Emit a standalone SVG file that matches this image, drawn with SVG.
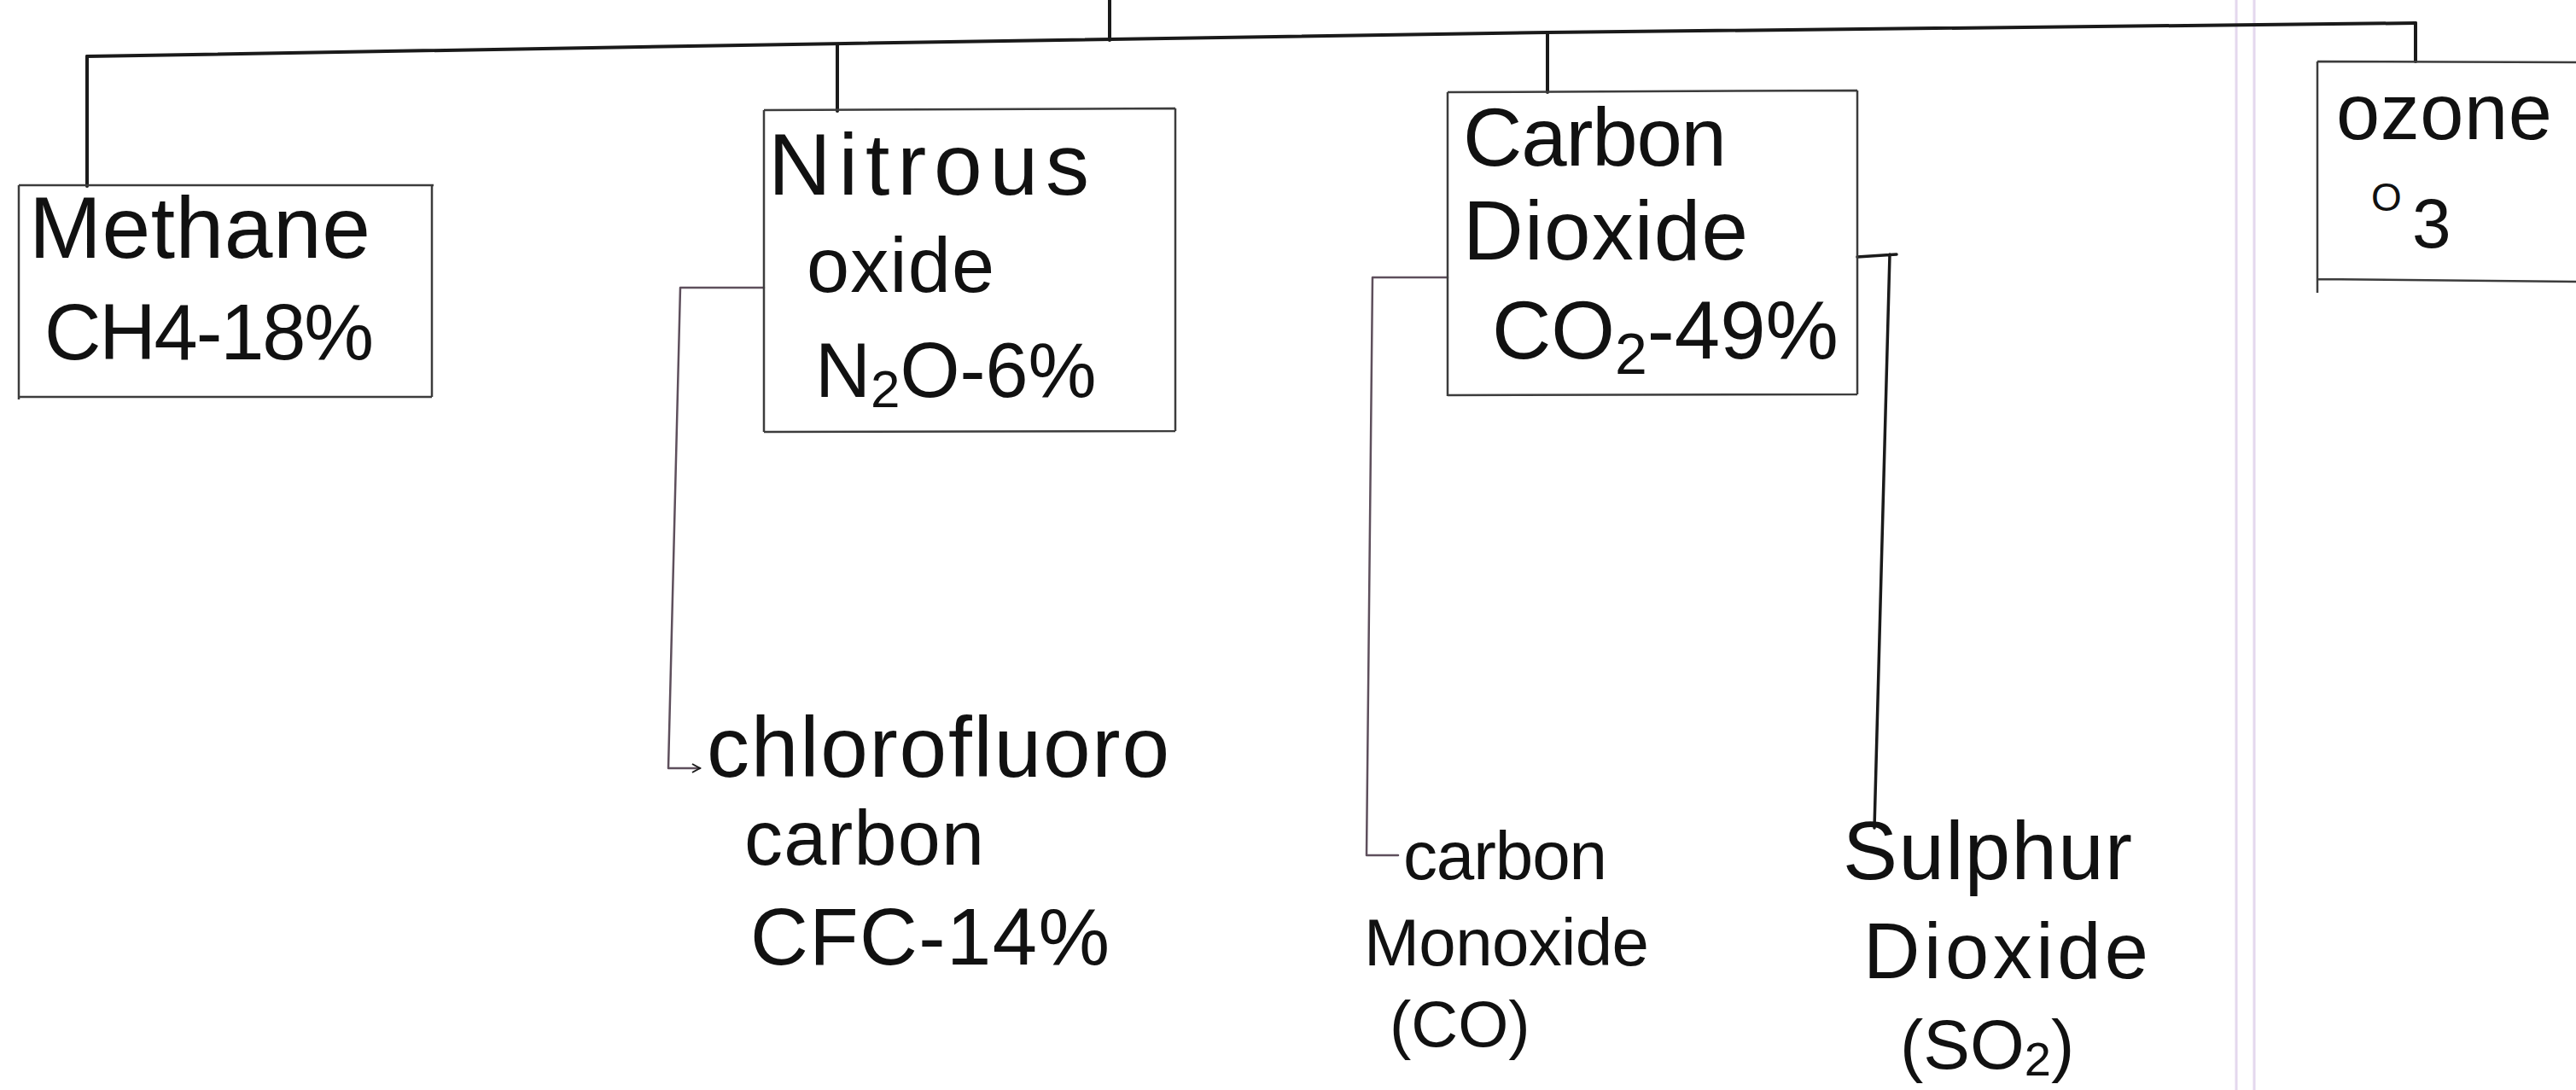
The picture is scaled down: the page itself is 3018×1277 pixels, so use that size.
<svg xmlns="http://www.w3.org/2000/svg" width="3018" height="1277" viewBox="0 0 3018 1277">
<defs>
<style>
.bg{fill:#ffffff}
.margin{stroke:#e4d8ee;stroke-width:3;fill:none}
.box{fill:none;stroke:#3c3c3c;stroke-width:2.5;stroke-linejoin:round}
.main{fill:none;stroke:#1a1a1a;stroke-width:4;stroke-linecap:round;stroke-linejoin:round}
.sub{fill:none;stroke:#5e4f5c;stroke-width:2.5;stroke-linecap:round;stroke-linejoin:round}
.dark{fill:none;stroke:#1a1a1a;stroke-width:3.5;stroke-linecap:round;stroke-linejoin:round}
.t{font-family:"Liberation Sans",Arial,sans-serif;fill:#111}
</style>
<marker id="arr" viewBox="0 0 12 12" refX="10" refY="6" markerWidth="12" markerHeight="12" markerUnits="userSpaceOnUse" orient="auto">
<path d="M1,1 L10,6 L1,11" fill="none" stroke="#1a1a1a" stroke-width="2"/>
</marker>
</defs>
<rect class="bg" x="0" y="0" width="3018" height="1277"/>
<g id="page-margin">
<line class="margin" x1="2620" y1="0" x2="2620" y2="1277"/>
<line class="margin" x1="2641" y1="0" x2="2641" y2="1277"/>
</g>
<g id="connectors">
<path class="main" d="M1300,0 L1300,47"/>
<path class="main" d="M102,66 L990,51 L1813,38 L2830,27"/>
<path class="main" d="M102,66 L102,218"/>
<path class="main" d="M981,52 L981,130"/>
<path class="main" d="M1813,38 L1813,108"/>
<path class="main" d="M2830,27 L2830,72"/>
<path class="sub" d="M895,337 L797,337 L783,900 L820,900" marker-end="url(#arr)"/>
<path class="sub" d="M1696,325 L1608,325 L1601,1002 L1638,1002"/>
<path class="dark" d="M2176,301 L2222,298 M2214,298 L2196,970"/>
</g>
<g id="node-methane">
<path class="box" d="M22,217 L508,217 M22,217 L22,468 M506,217 L506,465 M22,465 L506,465"/>
<text class="t" x="34" y="302" font-size="102" textLength="400" lengthAdjust="spacing">Methane</text>
<text class="t" x="52" y="421" font-size="92" textLength="386" lengthAdjust="spacing">CH4-18%</text>
</g>
<g id="node-nitrous">
<path class="box" d="M895,129 L1377,127 M895,129 L895,506 M1377,127 L1377,505 M895,506 L1377,505"/>
<text class="t" x="900" y="228" font-size="102" textLength="376" lengthAdjust="spacing">Nitrous</text>
<text class="t" x="945" y="342" font-size="90" textLength="220" lengthAdjust="spacing">oxide</text>
<text class="t" x="955" y="465" font-size="90">N<tspan font-size="62" dy="12">2</tspan><tspan dy="-12">O-6%</tspan></text>
</g>
<g id="node-co2">
<path class="box" d="M1696,108 L2176,106 M1696,108 L1696,464 M2176,106 L2176,462 M1696,463 L2176,462"/>
<text class="t" x="1714" y="194" font-size="96" textLength="309" lengthAdjust="spacing">Carbon</text>
<text class="t" x="1714" y="304" font-size="98" textLength="334" lengthAdjust="spacing">Dioxide</text>
<text class="t" x="1748" y="420" font-size="96">CO<tspan font-size="68" dy="18">2</tspan><tspan dy="-18">-49%</tspan></text>
</g>
<g id="node-ozone">
<path class="box" d="M2715,72 L3018,73 M2715,72 L2715,343 M2715,327 L3018,330"/>
<text class="t" x="2737" y="163" font-size="92" textLength="253" lengthAdjust="spacing">ozone</text>
<text class="t" x="2778" y="247" font-size="46">O<tspan x="2826" y="290" font-size="82">3</tspan></text>
</g>
<g id="node-cfc">
<text class="t" x="828" y="910" font-size="100" textLength="542" lengthAdjust="spacing">chlorofluoro</text>
<text class="t" x="872" y="1013" font-size="90" textLength="281" lengthAdjust="spacing">carbon</text>
<text class="t" x="879" y="1130" font-size="94" textLength="421" lengthAdjust="spacing">CFC-14%</text>
</g>
<g id="node-co">
<text class="t" x="1644" y="1030" font-size="80" textLength="239" lengthAdjust="spacing">carbon</text>
<text class="t" x="1598" y="1131" font-size="78" textLength="334" lengthAdjust="spacing">Monoxide</text>
<text class="t" x="1628" y="1226" font-size="76">(CO)</text>
</g>
<g id="node-so2">
<text class="t" x="2159" y="1030" font-size="96" textLength="339" lengthAdjust="spacing">Sulphur</text>
<text class="t" x="2183" y="1146" font-size="92" textLength="334" lengthAdjust="spacing">Dioxide</text>
<text class="t" x="2226" y="1252" font-size="82">(SO<tspan font-size="56" dy="8">2</tspan><tspan dy="-8">)</tspan></text>
</g>
</svg>
